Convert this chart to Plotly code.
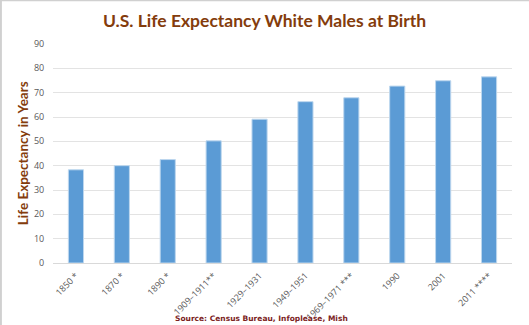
import plotly.graph_objects as go

categories = ["1850 *", "1870 *", "1890 *", "1909\u20131911**", "1929\u20131931",
              "1949\u20131951", "1969\u20131971 ***", "1990", "2001", "2011 ****"]
life_exp = [38.3, 40.0, 42.5, 50.2, 59.1, 66.3, 67.9, 72.7, 74.9, 76.5]
y_ticks = [0, 10, 20, 30, 40, 50, 60, 70, 80, 90]

fig = go.Figure()
fig.add_trace(go.Bar(
    x=categories, y=life_exp,
    marker=dict(color="#5B9BD5", line=dict(color="#BDD7EE", width=1)),
    width=0.33,
))

fig.update_layout(
    width=529, height=325,
    margin=dict(l=53, r=17, t=44, b=62),
    paper_bgcolor="white", plot_bgcolor="white",
    showlegend=False,
    font=dict(family="Open Sans, sans-serif", color="#595959", size=9),
    title=dict(text="<b>U.S. Life Expectancy White Males at Birth</b>",
               x=0.5, xanchor="center", y=0.937, yanchor="middle",
               font=dict(family="Lato, sans-serif", size=17.5, color="#843C0C")),
    xaxis=dict(tickangle=-45, showgrid=False, showline=True, linecolor="#D9D9D9",
               tickfont=dict(size=9, color="#595959"), ticks="outside",
               ticklen=3, tickcolor="white", automargin=False),
    yaxis=dict(range=[0, 90], tickvals=y_ticks, gridcolor="#E3E3E3", gridwidth=1,
               zeroline=False, showline=False, ticks="outside", ticklen=6,
               tickcolor="white", automargin=False,
               tickfont=dict(size=9, color="#595959")),
)

fig.add_annotation(text="<b>Life Expectancy in Years</b>", textangle=-90,
                   xref="paper", yref="paper", x=-0.066, y=0.5,
                   xanchor="center", yanchor="middle", showarrow=False,
                   font=dict(family="Lato, sans-serif", size=13.5, color="#843C0C"))

fig.add_annotation(text="<b>Source: Census Bureau, Infoplease, Mish</b>",
                   xref="paper", yref="paper", x=0.455, y=-0.254,
                   xanchor="center", yanchor="middle", showarrow=False,
                   font=dict(family="DejaVu Sans, sans-serif", size=7.5, color="#7B2222"))

fig.add_shape(type="line", xref="paper", yref="paper", x0=-0.1135, x1=-0.1135, y0=-0.3, y1=1.3,
              line=dict(color="#D0D0D0", width=2))
fig.add_shape(type="line", xref="paper", yref="paper", x0=-0.2, x1=1.2, y0=1.2, y1=1.2,
              line=dict(color="#D0D0D0", width=2))

fig.write_html("out.html")
